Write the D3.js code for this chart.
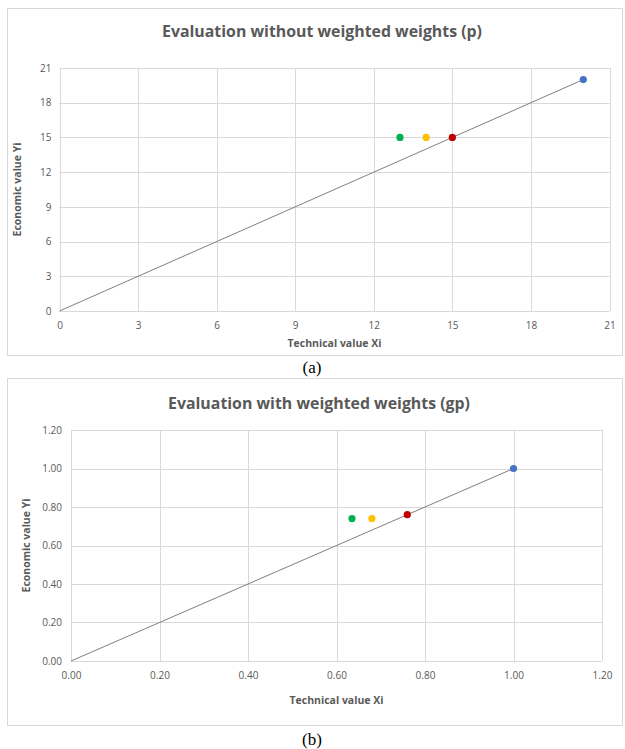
<!DOCTYPE html>
<html>
<head>
<meta charset="utf-8">
<script src="https://cdn.jsdelivr.net/npm/d3@7"></script>
<style>
  body { margin: 0; background: #fff; }
  svg { display: block; }
</style>
</head>
<body>
<svg id="fig" width="625" height="749"></svg>
<script>
// data
var pointColors = ['#00b050', '#ffc000', '#c00000', '#4472c4'];

var techP = [13, 14, 15, 20],
    econP = [15, 15, 15, 20],
    lineP = [[0, 0], [20, 20]],
    ticksP = [0, 3, 6, 9, 12, 15, 18, 21];

var techGP = [0.635, 0.68, 0.76, 1.0],
    econGP = [0.74, 0.74, 0.76, 1.0],
    lineGP = [[0, 0], [1, 1]],
    ticksGP = [0, 0.2, 0.4, 0.6, 0.8, 1.0, 1.2];

var svg = d3.select('#fig');
var grey = '#595959',
    gridColor = '#d9d9d9',
    font = 'Open Sans, Liberation Sans, sans-serif';

function drawChart(opt) {
    var g = svg.append('g');
    // outer frame
    g.append('rect')
        .attr('x', opt.box[0] + 0.5).attr('y', opt.box[1] + 0.5)
        .attr('width', opt.box[2]).attr('height', opt.box[3])
        .attr('fill', '#fff').attr('stroke', gridColor).attr('stroke-width', 1);

    var x = d3.scaleLinear().domain(opt.domain).range([opt.plot[0], opt.plot[1]]),
        y = d3.scaleLinear().domain(opt.domain).range([opt.plot[3], opt.plot[2]]);

    // grid
    g.append('g').selectAll('line.v').data(opt.ticks).enter().append('line')
        .attr('x1', function(d) { return Math.round(x(d)) + 0.5; })
        .attr('x2', function(d) { return Math.round(x(d)) + 0.5; })
        .attr('y1', opt.plot[2]).attr('y2', opt.plot[3])
        .attr('stroke', gridColor);
    g.append('g').selectAll('line.h').data(opt.ticks).enter().append('line')
        .attr('y1', function(d) { return Math.round(y(d)) + 0.5; })
        .attr('y2', function(d) { return Math.round(y(d)) + 0.5; })
        .attr('x1', opt.plot[0]).attr('x2', opt.plot[1])
        .attr('stroke', gridColor);

    // axes via d3-axis, lines hidden, only labels
    var xAxis = g.append('g')
        .attr('transform', 'translate(0,' + (opt.plot[3] + opt.xTickGap) + ')')
        .call(d3.axisBottom(x).tickValues(opt.ticks).tickFormat(opt.fmt).tickSize(0));
    var yAxis = g.append('g')
        .attr('transform', 'translate(' + (opt.plot[0] - opt.yTickGap) + ',0)')
        .call(d3.axisLeft(y).tickValues(opt.ticks).tickFormat(opt.fmt).tickSize(0));
    [xAxis, yAxis].forEach(function(a) {
        a.select('.domain').remove();
        a.selectAll('text').attr('fill', grey).attr('font-family', font).attr('font-size', '10px');
    });
    xAxis.selectAll('text').attr('dy', '0.71em').attr('y', 0);
    yAxis.selectAll('text').attr('x', 0);

    // titles
    g.append('text')
        .attr('x', opt.titlePos[0]).attr('y', opt.titlePos[1])
        .attr('text-anchor', 'middle')
        .attr('font-family', font).attr('font-weight', 700).attr('font-size', '16.5px')
        .attr('fill', grey)
        .attr('textLength', opt.titleLen).attr('lengthAdjust', 'spacingAndGlyphs')
        .text(opt.title);
    g.append('text')
        .attr('x', (opt.plot[0] + opt.plot[1]) / 2).attr('y', opt.xTitleY)
        .attr('text-anchor', 'middle')
        .attr('font-family', font).attr('font-weight', 700).attr('font-size', '10.5px')
        .attr('fill', grey)
        .text('Technical value Xi');
    g.append('text')
        .attr('transform', 'translate(' + opt.yTitleX + ',' + (opt.plot[2] + opt.plot[3]) / 2 + ') rotate(-90)')
        .attr('text-anchor', 'middle')
        .attr('font-family', font).attr('font-weight', 700).attr('font-size', '10.5px')
        .attr('fill', grey)
        .text('Economic value Yi');

    // reference line
    g.append('path')
        .datum(opt.line)
        .attr('d', d3.line().x(function(d) { return x(d[0]); }).y(function(d) { return y(d[1]); }))
        .attr('fill', 'none').attr('stroke', '#7f7f7f').attr('stroke-width', 1);

    // points
    g.append('g').selectAll('circle').data(opt.xs).enter().append('circle')
        .attr('cx', function(d) { return x(d); })
        .attr('cy', function(d, i) { return y(opt.ys[i]); })
        .attr('r', 3.6)
        .attr('fill', function(d, i) { return pointColors[i]; });

    // caption
    svg.append('text')
        .attr('x', 312).attr('y', opt.captionY)
        .attr('text-anchor', 'middle')
        .attr('font-family', 'Liberation Serif, serif').attr('font-size', '17px')
        .attr('fill', '#000')
        .text(opt.caption);
}

drawChart({
    box: [7, 8, 615, 347],
    plot: [59.5, 609.5, 68, 311],
    domain: [0, 21],
    ticks: ticksP,
    fmt: d3.format('d'),
    xs: techP, ys: econP, line: lineP,
    title: 'Evaluation without weighted weights (p)',
    titlePos: [322, 37], titleLen: 320,
    xTickGap: 11, yTickGap: 8,
    xTitleY: 347, yTitleX: 21,
    caption: '(a)', captionY: 373
});

drawChart({
    box: [7, 378, 615, 347],
    plot: [71, 602, 430, 661],
    domain: [0, 1.2],
    ticks: ticksGP,
    fmt: d3.format('.2f'),
    xs: techGP, ys: econGP, line: lineGP,
    title: 'Evaluation with weighted weights (gp)',
    titlePos: [319, 409], titleLen: 302,
    xTickGap: 11, yTickGap: 9,
    xTitleY: 704, yTitleX: 30,
    caption: '(b)', captionY: 745
});
</script>
</body>
</html>
